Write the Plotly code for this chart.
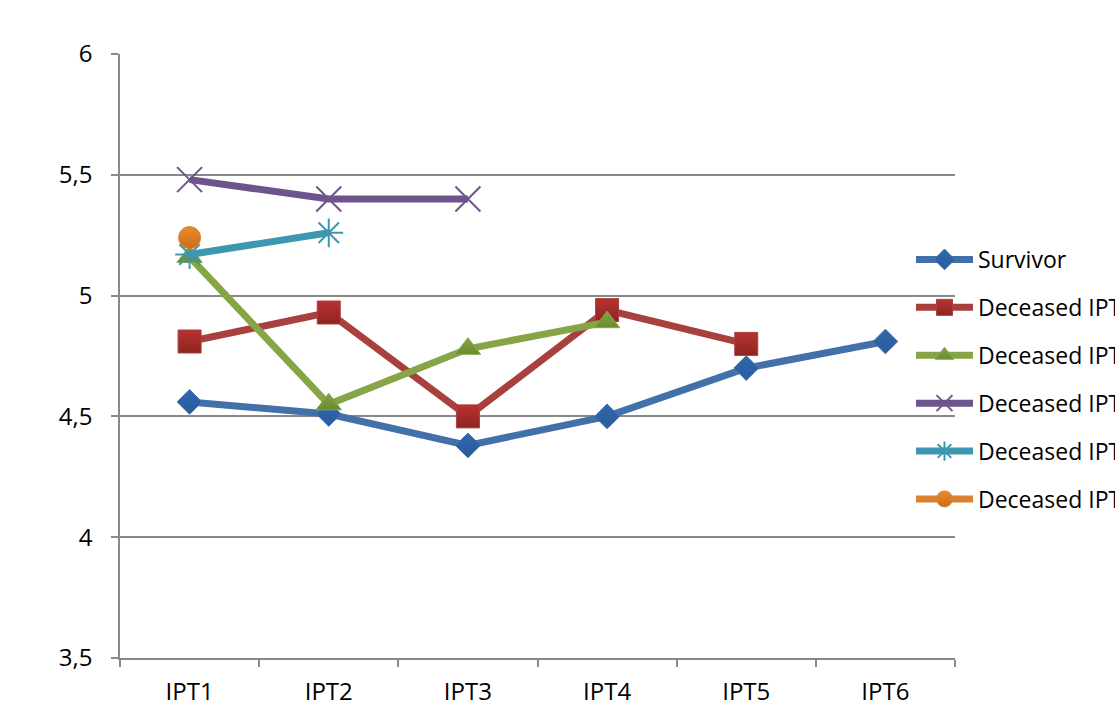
import plotly.graph_objects as go

# Survival chart: mean values per IPT visit for survivors and deceased groups
categories = ["IPT1", "IPT2", "IPT3", "IPT4", "IPT5", "IPT6"]

survivor = [4.56, 4.51, 4.38, 4.50, 4.70, 4.81]
deceased_ipt5 = [4.81, 4.93, 4.50, 4.94, 4.80, None]
deceased_ipt4 = [5.16, 4.55, 4.78, 4.89, None, None]
deceased_ipt3 = [5.48, 5.40, 5.40, None, None, None]
deceased_ipt2 = [5.17, 5.26, None, None, None, None]
deceased_ipt1 = [5.24, None, None, None, None, None]

series_names = ["Survivor", "Deceased IPT5", "Deceased IPT4",
                "Deceased IPT3", "Deceased IPT2", "Deceased IPT1"]

FONT = "Open Sans, Liberation Sans, sans-serif"

styles = [
    dict(line="#4271AA", marker="#3066AE", shade="#2A5C9C", symbol="diamond", size=19, open=False),
    dict(line="#A8403D", marker="#B83230", shade="#8E2422", symbol="square", size=23, open=False),
    dict(line="#85A546", marker="#82A640", shade="#6A8A32", symbol="triangle-up", size=22, open=False),
    dict(line="#6E548D", marker="#6E548D", shade=None, symbol="x-thin-open", size=25, open=True),
    dict(line="#3E97B0", marker="#3E97B0", shade=None, symbol="asterisk-open", size=24, open=True),
    dict(line="#DB8232", marker="#EC8A2C", shade="#C86E1C", symbol="circle", size=22, open=False),
]

all_series = [survivor, deceased_ipt5, deceased_ipt4,
              deceased_ipt3, deceased_ipt2, deceased_ipt1]

fig = go.Figure()
for name, vals, st in zip(series_names, all_series, styles):
    if st["open"]:
        marker = dict(symbol=st["symbol"], size=st["size"], color=st["marker"],
                      line=dict(color=st["marker"], width=2))
    else:
        marker = dict(symbol=st["symbol"], size=st["size"], color=st["marker"],
                      line=dict(color=st["line"], width=1),
                      gradient=dict(type="vertical", color=st["shade"]))
    fig.add_trace(go.Scatter(
        x=categories, y=vals, name=name, mode="lines+markers",
        line=dict(color=st["line"], width=7),
        marker=marker, legendgroup=name, connectgaps=False,
    ))

fig.update_layout(
    width=1115, height=710,
    margin=dict(l=120, r=160, t=54, b=52, autoexpand=False),
    paper_bgcolor="white", plot_bgcolor="white",
    separators=", ",
    font=dict(family=FONT, size=24, color="black"),
    showlegend=True,
    legend=dict(
        x=(911 - 120) / 835, xanchor="left",
        y=(710 - 52 - 238) / (710 - 54 - 52), yanchor="top",
        bgcolor="rgba(0,0,0,0)",
        font=dict(family=FONT, size=23, color="black"),
        itemwidth=57,
        tracegroupgap=15,
    ),
    xaxis=dict(
        type="category", range=[-0.5, 5.5],
        showline=True, linecolor="#898989", linewidth=1.5,
        ticks="outside", tickson="boundaries", ticklen=7,
        tickcolor="#898989", tickwidth=1.5,
        ticklabelstandoff=11, showgrid=False,
        tickfont=dict(family=FONT, size=24),
    ),
    yaxis=dict(
        range=[3.5, 6], dtick=0.5, tick0=3.5,
        showline=True, linecolor="#898989", linewidth=1.5,
        ticks="outside", ticklen=7, tickcolor="#898989", tickwidth=1.5,
        showgrid=True, gridcolor="#898989", gridwidth=1.5,
        zeroline=False, ticklabelstandoff=14,
        tickfont=dict(family=FONT, size=24),
    ),
)

fig.write_html("out.html")
